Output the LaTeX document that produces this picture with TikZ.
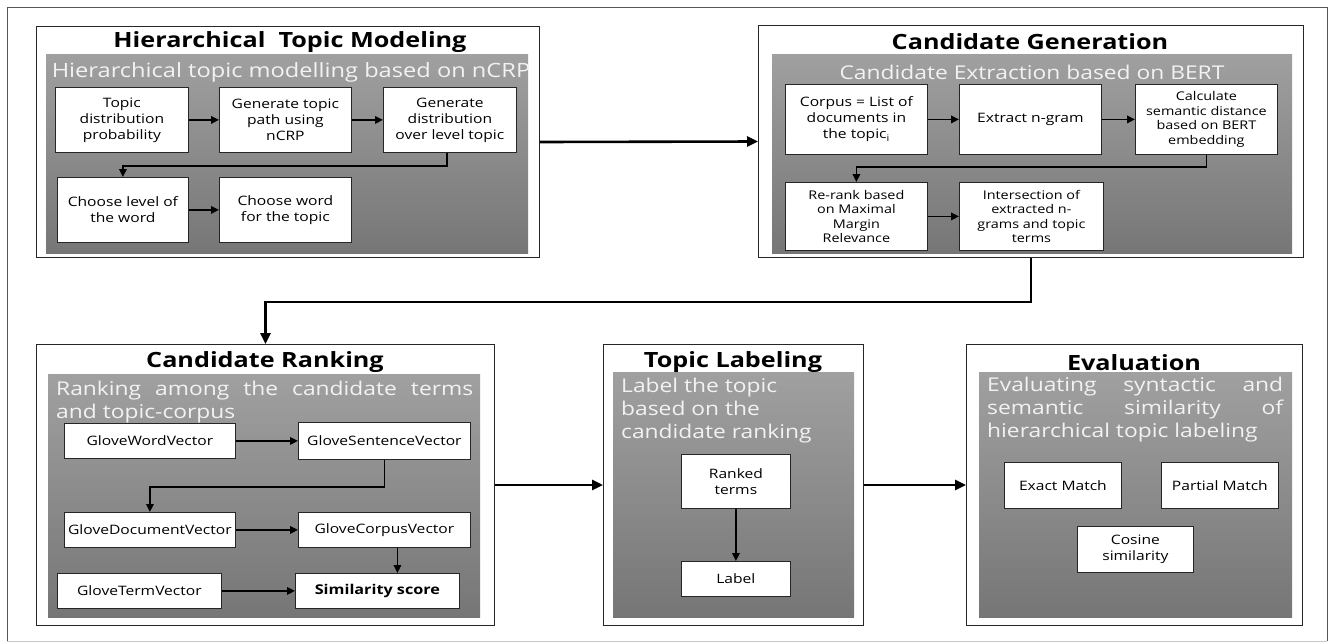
\documentclass[tikz,border=0pt]{standalone}
\usepackage{fontspec}
\setmainfont{Open Sans}[FakeStretch=1.2]
\usetikzlibrary{arrows.meta}
\definecolor{gtop}{RGB}{160,160,160}
\definecolor{gbot}{RGB}{118,118,118}
\definecolor{frameg}{RGB}{85,85,85}
\definecolor{framel}{RGB}{200,200,200}
\definecolor{subtxt}{RGB}{242,242,242}
\tikzset{
 panel/.style={draw=black!85, line width=1pt, fill=white, anchor=north west, inner sep=0pt},
 graybox/.style={anchor=north west, inner sep=0pt, top color=gtop, bottom color=gbot, draw=none},
 wbox/.style={draw=black!85, line width=0.8pt, fill=white, anchor=north west, inner sep=1pt, align=center, font=\fontsize{13}{16}\selectfont},
 sbox/.style={wbox, font=\fontsize{12}{14.5}\selectfont},
 ttl/.style={font=\fontsize{21}{24}\selectfont\bfseries, inner sep=0pt},
 sub/.style={text=subtxt, font=\fontsize{19}{23}\selectfont, inner sep=0pt},
 arr/.style={-{Triangle[length=8pt,width=7.5pt]}, line width=1.8pt},
 bigarr/.style={-{Triangle[length=11pt,width=10pt]}, line width=2.6pt},
}
\begin{document}
\begin{tikzpicture}[x=1pt,y=-1pt]
\useasboundingbox (0,0) rectangle (1333,643);
% outer frame
\coordinate (f1) at (7,641);
\coordinate (f2) at (7,7);
\coordinate (f3) at (1327,7);
\coordinate (f4) at (1327,641);
\draw[frameg, line width=1pt] (f1) -- (f2) -- (f3) -- (f4);
\draw[framel, line width=1pt] (f1) -- (f4);

% ---------- Panel 1 ----------
\node[panel, minimum width=503pt, minimum height=231pt] (p1) at (36,26) {};
\node[graybox, minimum width=482pt, minimum height=199pt] (g1) at (46,54) {};
\node[ttl] (t1) at (290,42) {Hierarchical\ \ Topic Modeling};
\node[sub, font=\fontsize{19.7}{23}\selectfont] (s1) at (291,72) {Hierarchical topic modelling based on nCRP};
\node[wbox, minimum width=133pt, minimum height=65pt] (b11) at (55,87) {Topic\\distribution\\probability};
\node[wbox, minimum width=132pt, minimum height=65pt] (b12) at (219,87) {Generate topic\\path using\\nCRP};
\node[wbox, minimum width=133pt, minimum height=65pt] (b13) at (383,87) {Generate\\distribution\\over level topic};
\node[wbox, minimum width=131pt, minimum height=65pt] (b14) at (57,177) {Choose level of\\the word};
\node[wbox, minimum width=132pt, minimum height=65pt] (b15) at (219,177) {Choose word\\for the topic};
\draw[arr] (b11) -- (b12);
\draw[arr] (b12) -- (b13);
\draw[arr] ([xshift=-3pt]b13.south) -- ++(0,13) -| (b14.north);
\draw[arr] (b14) -- (b15);

% ---------- Panel 2 ----------
\node[panel, minimum width=545pt, minimum height=232pt] (p2) at (758,25) {};
\node[graybox, minimum width=520pt, minimum height=199pt] (g2) at (772,54) {};
\node[ttl] (t2) at (1030,42) {Candidate Generation};
\node[sub] (s2) at (1032,72) {Candidate Extraction based on BERT};
\node[wbox, minimum width=142pt, minimum height=70pt] (b21) at (785,84) {Corpus = List of\\documents in\\the topic\textsubscript{i}};
\node[wbox, minimum width=142pt, minimum height=70pt] (b22) at (959,84) {Extract n-gram};
\node[sbox, minimum width=142pt, minimum height=70pt] (b23) at (1135,84) {Calculate\\semantic distance\\based on BERT\\embedding};
\node[sbox, minimum width=142pt, minimum height=68pt] (b24) at (785,182) {Re-rank based\\on Maximal\\Margin\\Relevance};
\node[sbox, minimum width=144pt, minimum height=68pt] (b25) at (959,182) {Intersection of\\extracted n-\\grams and topic\\terms};
\draw[arr] (b21) -- (b22);
\draw[arr] (b22) -- (b23);
\draw[arr] (b23.south) -- ++(0,12) -| (b24.north);
\draw[arr] (b24) -- (b25);

% ---------- Panel 3 ----------
\node[panel, minimum width=458pt, minimum height=281pt] (p3) at (36,344) {};
\node[graybox, minimum width=432pt, minimum height=243pt] (g3) at (48,374) {};
\node[ttl] (t3) at (265,362) {Candidate Ranking};
\node[sub, anchor=north west, align=left] (s3) at (56,381) {\makebox[417pt][s]{Ranking among the candidate terms}\\and topic-corpus};
\node[wbox, minimum width=171pt, minimum height=35pt] (b31) at (64,423) {GloveWordVector};
\node[wbox, minimum width=172pt, minimum height=37pt] (b32) at (298,422) {GloveSentenceVector};
\node[wbox, minimum width=171pt, minimum height=35pt] (b33) at (64,512) {GloveDocumentVector};
\node[wbox, minimum width=172pt, minimum height=35pt] (b34) at (298,512) {GloveCorpusVector};
\node[wbox, minimum width=164pt, minimum height=35pt] (b35) at (57,573) {GloveTermVector};
\node[wbox, minimum width=164pt, minimum height=35pt, font=\fontsize{13.5}{16}\selectfont\bfseries] (b36) at (295,573) {Similarity score};
\draw[arr] (b31) -- (b32);
\draw[arr] (b32.south) -- ++(0,27) -| (b33.north);
\draw[arr] (b33) -- (b34);
\draw[arr] ([xshift=13pt]b34.south) -- ([xshift=13pt]b34.south |- b36.north);
\draw[arr] (b35) -- (b36);

\draw[bigarr] (p1.east) -- (p2.west);
\draw[bigarr] (p2.south) -- ++(0,44) -| (p3.north);

% ---------- Panel 4 ----------
\node[panel, minimum width=260pt, minimum height=281pt] (p4) at (603,344) {};
\node[graybox, minimum width=241pt, minimum height=245pt] (g4) at (613,372) {};
\node[ttl] (t4) at (733,362) {Topic Labeling};
\node[sub, anchor=north west, align=left] (s4) at (621,378) {Label the topic\\based on the\\candidate ranking};
\node[wbox, minimum width=109pt, minimum height=54pt] (b41) at (681,454) {Ranked\\terms};
\node[wbox, minimum width=109pt, minimum height=35pt] (b42) at (681,561) {Label};
\draw[arr] (b41) -- (b42);

% ---------- Panel 5 ----------
\node[panel, minimum width=336pt, minimum height=281pt] (p5) at (966,344) {};
\node[graybox, minimum width=313pt, minimum height=245pt] (g5) at (979,372) {};
\node[ttl] (t5) at (1134,363) {Evaluation};
\node[sub, anchor=north west, align=left] (s5) at (987,377) {\makebox[296pt][s]{Evaluating syntactic and}\\\makebox[296pt][s]{semantic similarity of}\\hierarchical topic labeling};
\node[wbox, minimum width=117pt, minimum height=46pt] (b51) at (1004,462) {Exact Match};
\node[wbox, minimum width=117pt, minimum height=46pt] (b52) at (1161,462) {Partial Match};
\node[wbox, minimum width=116pt, minimum height=46pt] (b53) at (1077,526) {Cosine\\similarity};

\draw[bigarr] (p3.east) -- (p4.west);
\draw[bigarr] (p4.east) -- (p5.west);
\end{tikzpicture}
\end{document}
